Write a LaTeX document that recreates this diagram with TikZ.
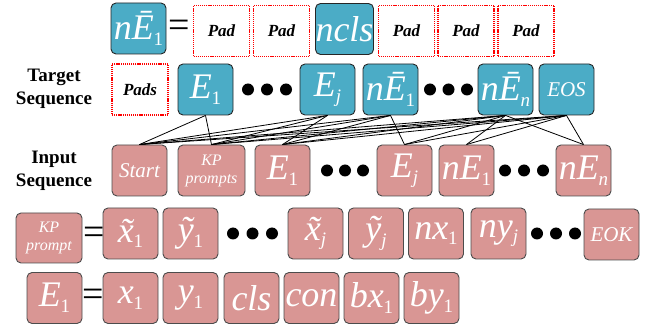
\documentclass[tikz,border=0pt]{standalone}
\usepackage{fontspec}
\setmainfont{LiberationSerif}[Extension=.ttf, UprightFont=*-Regular,
  ItalicFont=*-Italic, BoldFont=*-Bold, BoldItalicFont=*-BoldItalic]
\usepackage{graphicx}
% lowered subscript for token names
\newcommand\lsub[1]{\raisebox{-0.16em}{\fontsize{19pt}{19pt}\selectfont #1}}
\definecolor{tealbox}{HTML}{4BACC6}
\definecolor{pinkbox}{HTML}{D99694}
\tikzset{
  tok/.style={draw=black!85, line width=0.9pt, rounded corners=5pt,
    minimum width=55pt, minimum height=51pt, inner sep=0pt, text=white,
    font=\fontsize{36pt}{38pt}\selectfont\itshape, align=center},
  tgt/.style={tok, fill=tealbox},
  inp/.style={tok, fill=pinkbox, draw=black!70},
  padbox/.style={draw=red, dash pattern=on 1.2pt off 0.9pt, line width=1.2pt,
    minimum width=56pt, minimum height=51pt, inner sep=0pt,
    font=\fontsize{17pt}{17pt}\selectfont\bfseries\itshape},
  midtxt/.style={font=\fontsize{21pt}{23pt}\selectfont\itshape},
  smalltxt/.style={font=\fontsize{16pt}{18pt}\selectfont\itshape},
  eqsign/.style={font=\fontsize{38pt}{38pt}\selectfont, inner sep=0pt},
  rowlabel/.style={font=\fontsize{19pt}{23pt}\selectfont\bfseries, align=center},
  link/.style={line width=0.8pt},
  bullet/.style={circle, fill=black, minimum size=12pt, inner sep=0pt}
}
\begin{document}
\begin{tikzpicture}[x=1pt,y=-1pt]
\useasboundingbox (0,0) rectangle (657,331);

% ---- noisy target definition ----
\node[tgt] (defn) at (138.5,28.5) {n\={E}\lsub{\upshape 1}};
\node[eqsign] (eqa) at (179,29) {=};
\node[padbox] (pa) at (221.5,31) {Pad};
\node[padbox] (pb) at (281.5,31) {Pad};
\node[tgt] (ncls) at (344.5,29) {ncls};
\node[padbox] (pc) at (406.5,31) {Pad};
\node[padbox] (pd) at (466,31) {Pad};
\node[padbox] (pe) at (526,31) {Pad};

% ---- target sequence ----
\node[rowlabel] (tlab) at (54,89) {Target\\Sequence};
\node[padbox] (pads) at (140,89.5) {Pads};
\node[tgt] (t1) at (205.5,89.5) {E\lsub{\upshape 1}};
\node[bullet] (tda) at (248,89.5) {};
\node[bullet] (tdb) at (267,89.5) {};
\node[bullet] (tdc) at (286,89.5) {};
\node[tgt] (t2) at (327.5,89.5) {E\lsub{j}};
\node[tgt] (t3) at (390.5,89.5) {n\={E}\lsub{\upshape 1}};
\node[bullet] (tdd) at (430,89.5) {};
\node[bullet] (tde) at (448.5,89.5) {};
\node[bullet] (tdf) at (467,89.5) {};
\node[tgt] (t4) at (505.5,89.5) {n\={E}\lsub{n}};
\node[tgt, midtxt] (t5) at (566.5,89.5) {EOS};

% ---- input sequence ----
\node[rowlabel] (ilab) at (54,170.5) {Input\\Sequence};
\node[inp, midtxt] (i0) at (139.5,170.5) {Start};
\node[inp, smalltxt, minimum width=67pt] (i1) at (211.5,170.5) {KP\\prompts};
\node[inp] (i2) at (282.5,170.5) {E\lsub{\upshape 1}};
\node[bullet] (ida) at (327,170.5) {};
\node[bullet] (idb) at (345,170.5) {};
\node[bullet] (idc) at (363,170.5) {};
\node[inp] (i3) at (404.5,170.5) {E\lsub{j}};
\node[inp] (i4) at (466.5,170.5) {nE\lsub{\upshape 1}};
\node[bullet] (idd) at (505,170.5) {};
\node[bullet] (ide) at (524,170.5) {};
\node[bullet] (idf) at (543,170.5) {};
\node[inp] (i5) at (583.5,170.5) {nE\lsub{n}};

% ---- attention links ----
\foreach \t/\list in {t1/{i0,i1}, t2/{i0,i1,i2}, t3/{i0,i1,i2,i3},
                      t4/{i0,i1,i2,i3,i4,i5}, t5/{i0,i1,i2,i3,i4,i5}}
  \foreach \i in \list
    \draw[link] (\t.south) -- (\i.north);

% ---- keypoint prompt definition ----
\node[inp, smalltxt, minimum width=66pt, minimum height=50pt] (kp) at (49,238) {KP\\prompt};
\node[eqsign] (eqb) at (94,236) {=};
\node[inp] (kx1) at (130.5,233.5) {\~{x}\lsub{\upshape 1}};
\node[inp] (ky1) at (190.5,233.5) {\~{y}\lsub{\upshape 1}};
\node[bullet] (kda) at (233,233.5) {};
\node[bullet] (kdb) at (252.5,233.5) {};
\node[bullet] (kdc) at (272,233.5) {};
\node[inp] (kxj) at (315.5,233.5) {\~{x}\lsub{j}};
\node[inp] (kyj) at (376,233.5) {\~{y}\lsub{j}};
\node[inp] (nx1) at (436,233.5) {nx\lsub{\upshape 1}};
\node[inp] (nyj) at (498.5,233.5) {ny\lsub{j}};
\node[bullet] (kdd) at (537,233.5) {};
\node[bullet] (kde) at (556,233.5) {};
\node[bullet] (kdf) at (575,233.5) {};
\node[inp, midtxt] (eok) at (611.5,234.5) {EOK};

% ---- entry definition ----
\node[inp] (e1) at (54.5,298) {E\lsub{\upshape 1}};
\node[eqsign] (eqc) at (93,298) {=};
\node[inp] (ex) at (130.5,298) {x\lsub{\upshape 1}};
\node[inp] (ey) at (190.5,298) {y\lsub{\upshape 1}};
\node[inp] (ecls) at (251.5,298) {cls};
\node[inp] (econ) at (311.5,298) {con};
\node[inp] (ebx) at (371.5,298) {bx\lsub{\upshape 1}};
\node[inp] (eby) at (431.5,298) {by\lsub{\upshape 1}};
\end{tikzpicture}
\end{document}
